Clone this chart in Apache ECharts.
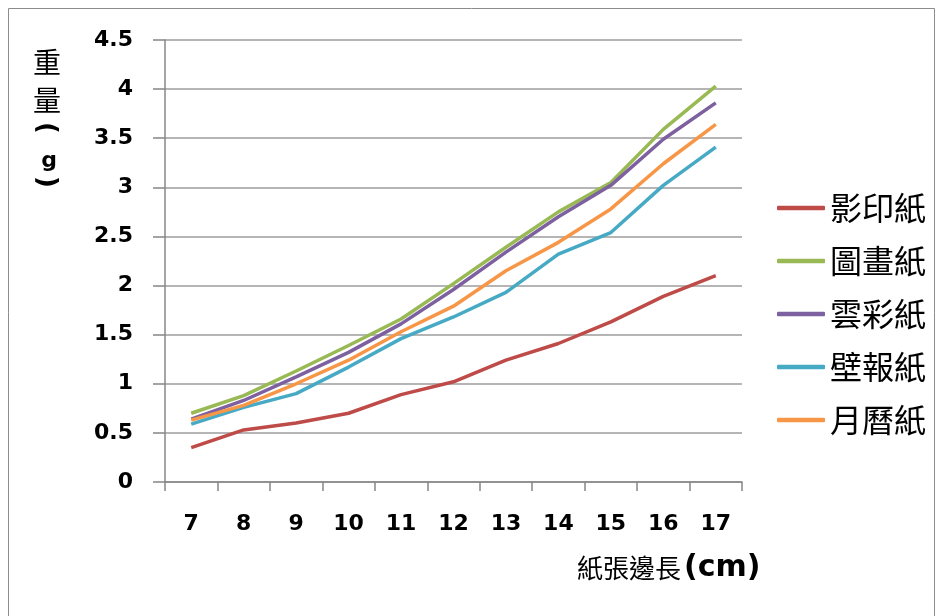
<!DOCTYPE html>
<html>
<head>
<meta charset="utf-8">
<script src="https://cdn.jsdelivr.net/npm/echarts@6/dist/echarts.min.js"></script>
<style>
  html, body { margin: 0; padding: 0; background: #fff; }
  #chart { width: 942px; height: 616px; }
</style>
</head>
<body>
<div id="chart"></div>
<script>
// Paper side length (cm)
const sideLengths = ['7', '8', '9', '10', '11', '12', '13', '14', '15', '16', '17'];

// Weight (g) of each paper type
const copyPaper     = [0.35, 0.53, 0.60, 0.70, 0.89, 1.02, 1.24, 1.41, 1.63, 1.89, 2.10];
const drawingPaper  = [0.70, 0.88, 1.13, 1.39, 1.66, 2.02, 2.39, 2.75, 3.05, 3.59, 4.03];
const cloudPaper    = [0.64, 0.83, 1.07, 1.32, 1.61, 1.96, 2.34, 2.70, 3.02, 3.49, 3.86];
const posterPaper   = [0.59, 0.76, 0.90, 1.17, 1.46, 1.68, 1.93, 2.32, 2.54, 3.02, 3.41];
const calendarPaper = [0.63, 0.78, 1.00, 1.24, 1.53, 1.79, 2.15, 2.44, 2.78, 3.24, 3.64];

const seriesNames = ['影印紙', '圖畫紙', '雲彩紙', '壁報紙', '月曆紙'];
const seriesData = [copyPaper, drawingPaper, cloudPaper, posterPaper, calendarPaper];
const seriesColors = ['#BE4B48', '#98B954', '#7D60A0', '#46AAC5', '#F79646'];

const numFont = '"DejaVu Sans", sans-serif';
const cjkFont = '"Noto Sans CJK TC", "Noto Sans CJK SC", sans-serif';

const chart = echarts.init(document.getElementById('chart'));

// Centred text element for the stacked y-axis title pieces
function titlePiece(text, x, y, size, family, weight, rotation) {
  return {
    type: 'text',
    x: x,
    y: y,
    rotation: rotation || 0,
    style: {
      text: text,
      fontSize: size,
      fontFamily: family,
      fontWeight: weight || 'normal',
      fill: '#000',
      align: 'center',
      verticalAlign: 'middle'
    },
    silent: true
  };
}

chart.setOption({
  animation: false,
  backgroundColor: '#fff',
  grid: { left: 165, right: 200, top: 40, bottom: 134, containLabel: false },
  xAxis: {
    type: 'category',
    data: sideLengths,
    boundaryGap: true,
    axisLine: { lineStyle: { color: '#878787', width: 1.5 } },
    axisTick: { show: true, length: 9, lineStyle: { color: '#878787', width: 1.5 } },
    axisLabel: { margin: 31, color: '#000', fontSize: 22, fontWeight: 'bold', fontFamily: numFont },
    splitLine: { show: false }
  },
  yAxis: {
    type: 'value',
    min: 0,
    max: 4.5,
    interval: 0.5,
    axisLine: { show: true, lineStyle: { color: '#878787', width: 1.5 } },
    axisTick: { show: true, inside: false, length: 12, lineStyle: { color: '#878787', width: 1.5 } },
    axisLabel: { margin: 32, color: '#000', fontSize: 22, fontWeight: 'bold', fontFamily: numFont },
    splitLine: { show: true, lineStyle: { color: '#9C9C9C', width: 1.5 } }
  },
  legend: {
    orient: 'vertical',
    left: 777,
    top: 191,
    padding: 0,
    icon: 'roundRect',
    itemWidth: 48,
    itemHeight: 4.5,
    itemGap: 19,
    textStyle: { color: '#000', fontSize: 32, fontFamily: cjkFont, lineHeight: 34 },
    data: seriesNames
  },
  series: seriesNames.map((name, i) => ({
    name: name,
    type: 'line',
    data: seriesData[i],
    symbol: 'none',
    smooth: false,
    lineStyle: { color: seriesColors[i], width: 3.5 },
    itemStyle: { color: seriesColors[i] }
  })),
  graphic: [
    {
      type: 'rect',
      shape: { x: 8.5, y: 8.5, width: 926, height: 620 },
      style: { fill: 'none', stroke: '#8C8C8C', lineWidth: 1 },
      silent: true
    },
    // Y-axis title, stacked vertically: 重量(g)
    titlePiece('重', 47, 62, 28, cjkFont),
    titlePiece('量', 47, 100, 28, cjkFont),
    titlePiece('(', 46, 128, 26, numFont, 'bold', -Math.PI / 2),
    titlePiece('g', 49, 161, 22, numFont, 'bold'),
    titlePiece(')', 46, 182, 26, numFont, 'bold', -Math.PI / 2),
    // X-axis title: 紙張邊長(cm)
    {
      type: 'text',
      x: 577,
      y: 568,
      style: { text: '紙張邊長', fontSize: 26, fontFamily: cjkFont, fill: '#000', verticalAlign: 'middle' },
      silent: true
    },
    {
      type: 'text',
      x: 684,
      y: 568,
      style: { text: '(cm)', fontSize: 30, fontWeight: 'bold', fontFamily: numFont, fill: '#000', verticalAlign: 'middle' },
      silent: true
    }
  ]
});
</script>
</body>
</html>
